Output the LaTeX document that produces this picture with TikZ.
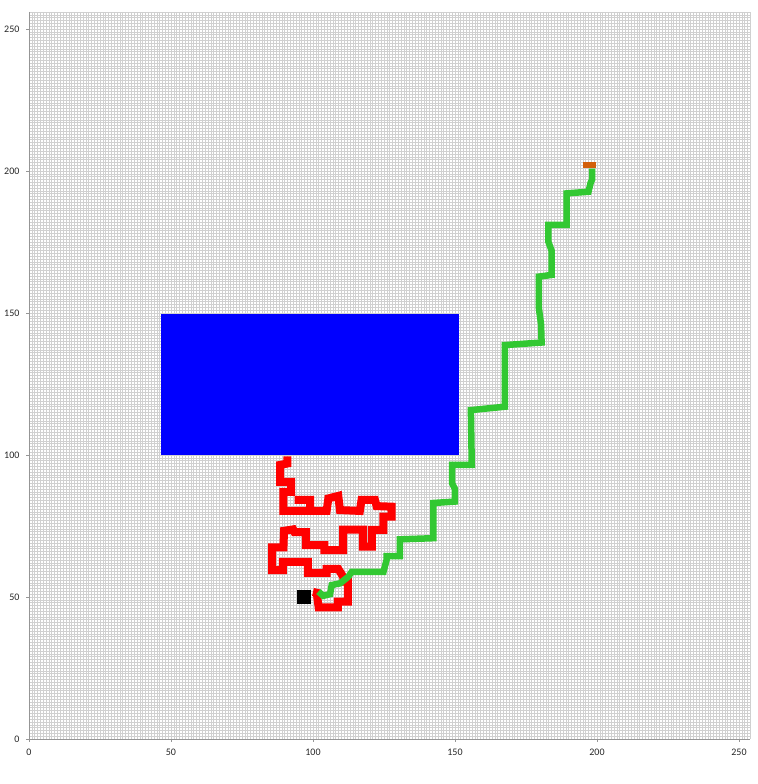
\documentclass[tikz,border=0pt]{standalone}
\usepackage{fontspec}
\setmainfont{Carlito}
\usepackage{xcolor}
\usepackage{tikz}
\usetikzlibrary{calc}
\definecolor{pathred}{RGB}{255,0,0}
\definecolor{pathgreen}{RGB}{50,200,50}
\definecolor{obstblue}{RGB}{0,0,255}
\definecolor{goalorange}{RGB}{210,95,10}
\definecolor{gridgray}{RGB}{208,208,208}
\definecolor{axisgray}{RGB}{150,150,150}

\begin{document}
\begin{tikzpicture}[x=2.84pt, y=2.84pt,
  ticklabel/.style={font=\fontsize{10}{12}\selectfont, text=black!85, inner sep=0pt},
  redpath/.style={draw=pathred, line width=8pt},
  greenpath/.style={draw=pathgreen, line width=6.5pt}]
\useasboundingbox (-10.21,-15.85) rectangle (256.69,260.21);
% grid
\draw[gridgray, line width=0.5pt, step=1] (0,0) grid (254,256);
\draw[axisgray, line width=0.9pt] (0,256) -- (0,0) -- (254,0);
\foreach \t in {0,50,...,250} {
  \draw[axisgray, line width=0.6pt] (\t,0) -- (\t,-1);
  \draw[axisgray, line width=0.6pt] (0,\t) -- (-1,\t);
  \node[ticklabel, anchor=east] (ylab\t) at (-3.3,\t) {\t};
  \node[ticklabel] (xlab\t) at (\t,-4.6) {\t};
}
% obstacle
\fill[obstblue] (46.5,100) rectangle (151.5,149.7);
% red path
\draw[redpath] (91,99.5) -- (91,97) -- (88.4,96.5) -- (88.4,90.5) -- (92.3,90.5) -- (92.3,87)
  -- (89.6,87) -- (89.6,80.3) -- (99,80.3)
  (93.5,84.2) -- (99,84.2) -- (99,80.3) -- (104.8,80.3) -- (105.4,84.7) -- (108.9,85.6)
  -- (109.5,80.6) -- (116.5,80.3) -- (117.1,84.2) -- (121.8,84.2) -- (122.4,82) -- (127.7,81.8)
  -- (127.7,78.3) -- (124.8,78.3) -- (124.8,73.6) -- (120.7,73.6) -- (120.7,67.7) -- (117.6,67.7)
  -- (117.6,73.7) -- (110.6,73.7) -- (110.6,66.5) -- (104,66.5) -- (104,68.3) -- (97.5,68.3)
  -- (97.5,72.8) -- (93.5,72.8) -- (93,73.8) -- (89.8,73.3) -- (89.6,67.5) -- (85.6,67.5)
  -- (85.6,59.5) -- (89.4,59.5) -- (89.4,62.4) -- (98.2,62.4) -- (98.2,58.5) -- (104.8,58.5)
  -- (104.8,59.9) -- (108.9,59.9) -- (110.7,57) -- (110.7,55.4) -- (112.3,55.4) -- (112.3,48.4)
  -- (108.8,48.4) -- (108.8,46.3) -- (102,46.3) -- (101.3,51.5) -- (100,51.8);
% green path
\draw[greenpath] (101.9,51.9) -- (103.6,50.4) -- (106,51) -- (106.6,54.2) -- (109.5,54.8)
  -- (112.4,57.1) -- (113.6,58.8) -- (124.8,58.8) -- (125.9,63) -- (125.9,64.4) -- (130.6,64.4)
  -- (130.6,70.3) -- (142.4,70.7) -- (142.4,83.1) -- (150,83.6) -- (150,88) -- (149,90)
  -- (149,96.5) -- (155.9,96.5) -- (155.6,115.8) -- (167.6,117) -- (167.6,138.7) -- (180.5,139.6)
  -- (180.3,146) -- (179.5,152) -- (179.5,162.8) -- (184,163.4) -- (184,172) -- (182.9,175)
  -- (182.9,181) -- (189.3,181) -- (189.3,192.1) -- (197,192.7) -- (197.8,196) -- (198.3,197)
  -- (198.3,200.8);
% start and goal
\fill[black] (94.4,47.5) rectangle (99.3,52.5);
\fill[goalorange] (195,200.9) rectangle (199.7,203.3);
\end{tikzpicture}
\end{document}
